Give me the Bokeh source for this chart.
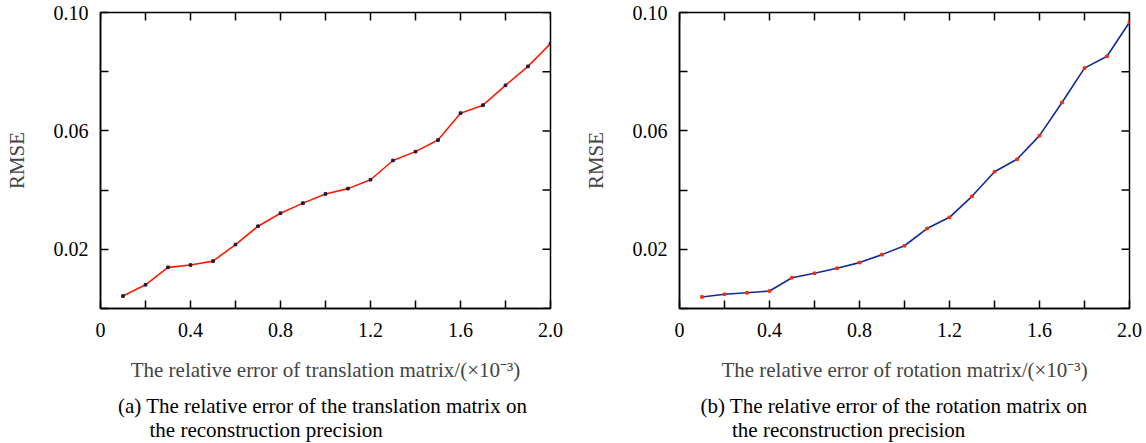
import math
from bokeh.plotting import figure
from bokeh.models import FixedTicker, Range1d, Title
from bokeh.layouts import row
from bokeh.embed import file_html
from bokeh.resources import INLINE

# ---------------- data ----------------
relative_error = [0.1, 0.2, 0.3, 0.4, 0.5, 0.6, 0.7, 0.8, 0.9, 1.0,
                  1.1, 1.2, 1.3, 1.4, 1.5, 1.6, 1.7, 1.8, 1.9, 2.0]
rmse_translation = [0.0042, 0.0080, 0.0139, 0.0147, 0.0160, 0.0216, 0.0278, 0.0322, 0.0356, 0.0387,
                    0.0405, 0.0435, 0.0500, 0.0530, 0.0569, 0.0660, 0.0687, 0.0754, 0.0818, 0.0895]
rmse_rotation = [0.0039, 0.0048, 0.0053, 0.0059, 0.0104, 0.0119, 0.0136, 0.0155, 0.0182, 0.0212,
                 0.0270, 0.0308, 0.0379, 0.0462, 0.0504, 0.0584, 0.0696, 0.0812, 0.0852, 0.0967]

x_min, x_max = 0.0, 2.0
y_min, y_max = 0.0, 0.10
x_major = [0, 0.4, 0.8, 1.2, 1.6, 2.0]
x_minor = [0.2, 0.6, 1.0, 1.4, 1.8]
x_tick_labels = ["0", "0.4", "0.8", "1.2", "1.6", "2.0"]
y_major = [0.02, 0.06, 0.10]
y_minor = [0.0, 0.04, 0.08]
y_tick_labels = ["0.02", "0.06", "0.10"]

y_title = "RMSE"
x_title_a = "The relative error of translation matrix/(\u00d710\u207b\u00b3)"
x_title_b = "The relative error of rotation matrix/(\u00d710\u207b\u00b3)"
caption_a = ["(a) The relative error of the translation matrix on", "the reconstruction precision"]
caption_b = ["(b) The relative error of the rotation matrix on", "the reconstruction precision"]

FONT = "Liberation Serif"


def style_axis(ax, ticks, minor, labels):
    ax.ticker = FixedTicker(ticks=ticks, minor_ticks=minor)
    ax.major_tick_in = 8
    ax.major_tick_out = 0
    ax.minor_tick_in = 8
    ax.minor_tick_out = 0
    ax.major_tick_line_width = 1.5
    ax.minor_tick_line_width = 1.5
    ax.axis_line_width = 1.5
    ax.axis_line_color = "black"
    ax.major_tick_line_color = "black"
    ax.minor_tick_line_color = "black"
    ax.major_label_overrides = {t: l for t, l in zip(ticks, labels)}
    ax.major_label_text_font = FONT
    ax.major_label_text_font_size = "20px"
    ax.major_label_text_color = "black"


def make_panel(y_vals, line_color, marker_color, x_title, caption, left_border, right_border,
               cap_offset):
    p = figure(frame_width=450, frame_height=296,
               x_range=Range1d(x_min, x_max), y_range=Range1d(y_min, y_max),
               output_backend="svg", toolbar_location=None,
               min_border_left=left_border, min_border_right=right_border,
               min_border_top=12, min_border_bottom=135,
               background_fill_color="white", border_fill_color="white")
    p.grid.visible = False
    p.outline_line_color = "black"
    p.outline_line_width = 1.5

    xa = p.xaxis[0]
    ya = p.yaxis[0]
    style_axis(xa, x_major, x_minor, x_tick_labels)
    style_axis(ya, y_major, y_minor, y_tick_labels)
    xa.major_label_standoff = 14
    ya.major_label_standoff = 12
    xa.axis_label = x_title
    xa.axis_label_text_font = FONT
    xa.axis_label_text_font_size = "21px"
    xa.axis_label_text_font_style = "normal"
    xa.axis_label_standoff = 18
    ya.axis_label = y_title
    ya.axis_label_text_font = FONT
    ya.axis_label_text_font_size = "21px"
    ya.axis_label_text_font_style = "normal"
    ya.axis_label_standoff = 22

    # inward ticks on the top and right edges of the box (clipped to the frame)
    top_ticks = x_major + x_minor
    p.scatter(top_ticks, [y_max] * len(top_ticks), marker="dash", size=16, angle=math.pi / 2,
              line_color="black", line_width=1.5)
    right_ticks = y_major + y_minor
    p.scatter([x_max] * len(right_ticks), right_ticks, marker="dash", size=16,
              line_color="black", line_width=1.5)

    p.line(relative_error, y_vals, line_color=line_color, line_width=1.6)
    p.scatter(relative_error, y_vals, size=2.6, marker="square",
              fill_color=marker_color, line_color=marker_color)

    cap_text = caption[0] + "\n" + "\u00a0" * 6 + caption[1]
    p.add_layout(Title(text=cap_text, align="left", offset=cap_offset, vertical_align="top",
                       standoff=18, text_font=FONT, text_font_size="21px",
                       text_font_style="normal", text_line_height=1.03,
                       text_color="black"), "below")
    return p


p1 = make_panel(rmse_translation, "#ff1a00", "#1a1a3a", x_title_a, caption_a, 100, 29, 17.5)
p2 = make_panel(rmse_rotation, "#102a9a", "#ff2a00", x_title_b, caption_b, 100, 17, 21)

layout = row(p1, p2)
open("out.html", "w").write(file_html(layout, INLINE))
